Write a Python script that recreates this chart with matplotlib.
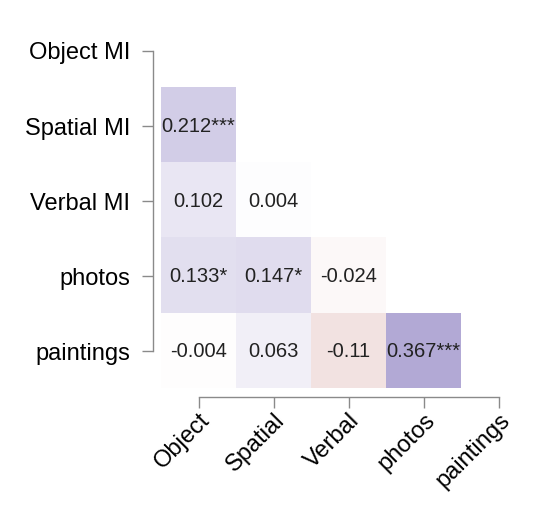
import numpy as np
import matplotlib.pyplot as plt
from matplotlib.colors import LinearSegmentedColormap

plt.rcParams['font.family'] = ['Liberation Sans', 'DejaVu Sans']

row_labels = ['Object MI', 'Spatial MI', 'Verbal MI', 'photos', 'paintings']
col_labels = ['Object', 'Spatial', 'Verbal', 'photos', 'paintings']

# lower triangle correlations (row i, col j with j < i)
r = np.array([
    [np.nan, np.nan, np.nan, np.nan, np.nan],
    [0.212, np.nan, np.nan, np.nan, np.nan],
    [0.102, 0.004, np.nan, np.nan, np.nan],
    [0.133, 0.147, -0.024, np.nan, np.nan],
    [-0.004, 0.063, -0.11, 0.367, np.nan],
])
stars = [
    ['', '', '', '', ''],
    ['***', '', '', '', ''],
    ['', '', '', '', ''],
    ['*', '*', '', '', ''],
    ['', '', '', '***', ''],
]

cmap = LinearSegmentedColormap.from_list(
    'corr', [(0.0, '#c8807a'), (0.5, '#ffffff'), (1.0, '#968bc7')])

fig = plt.figure(figsize=(5.35, 5.11), dpi=100)
ax = fig.add_axes([161 / 535, (511 - 388.5) / 511, 373 / 535, 375 / 511])

data = np.ma.masked_invalid(r)
ax.imshow(data, cmap=cmap, vmin=-0.5, vmax=0.5, aspect='auto',
          interpolation='nearest')

for i in range(len(row_labels)):
    for j in range(len(col_labels)):
        if not np.isnan(r[i, j]):
            txt = f'{r[i, j]:g}' + stars[i][j]
            ax.text(j, i, txt, ha='center', va='center', fontsize=14.5,
                    color='#222222')

ax.set_xlim(-0.5, 4.47)
ax.set_ylim(4.5, -0.5)

# spines first: set_position resets the ticks
for s in ['top', 'right']:
    ax.spines[s].set_visible(False)
ax.spines['left'].set_position(('outward', 6))
ax.spines['bottom'].set_position(('outward', 6))
ax.spines['left'].set_bounds(0, 4)
ax.spines['bottom'].set_bounds(0, 4)
for s in ['left', 'bottom']:
    ax.spines[s].set_color('#8a8a8a')
    ax.spines[s].set_linewidth(1.0)

ax.set_xticks(range(len(col_labels)))
ax.set_xticklabels(col_labels, rotation=45, ha='right', va='top',
                   rotation_mode='anchor', fontsize=17)
ax.set_yticks(range(len(row_labels)))
ax.set_yticklabels(row_labels, fontsize=17)

ax.tick_params(axis='both', length=8, width=1.0, color='#8a8a8a',
               labelcolor='black')
ax.tick_params(axis='y', pad=8)
ax.tick_params(axis='x', pad=1)

fig.savefig('out.png', dpi=100, facecolor='white')
